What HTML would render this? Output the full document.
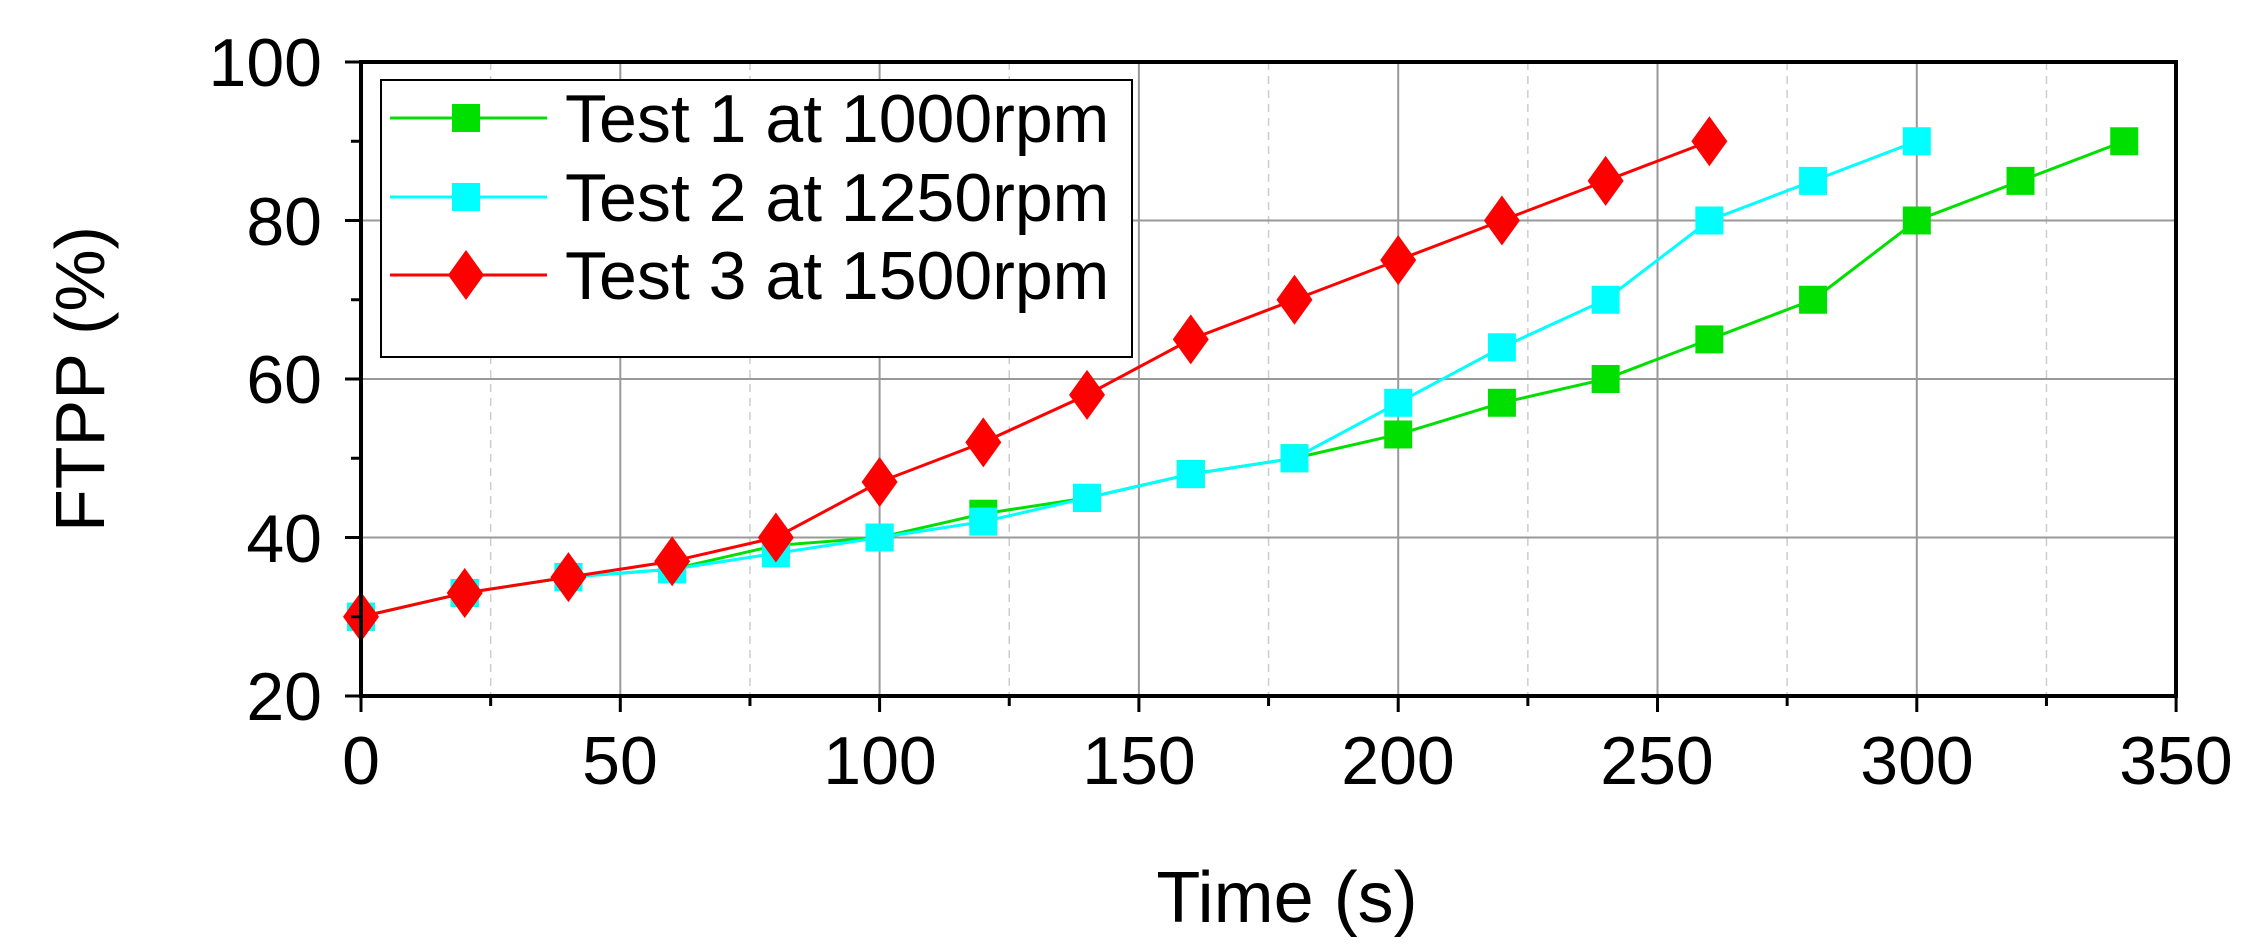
<!DOCTYPE html>
<html><head><meta charset="utf-8"><style>
html,body{margin:0;padding:0;background:#fff;}
svg{display:block;font-family:"Liberation Sans",Arial,sans-serif;}
</style></head><body>
<svg id="s" width="2256" height="945" viewBox="0 0 2256 945" xmlns="http://www.w3.org/2000/svg">
<g id="grid"></g>
<g id="series"></g>
<rect x="361" y="62" width="1815" height="634" fill="none" stroke="#000" stroke-width="4"/>
<g id="ticks"></g>
<g font-size="68" fill="#000" text-anchor="end">
<text x="322" y="86">100</text>
<text x="322" y="245">80</text>
<text x="322" y="403">60</text>
<text x="322" y="562">40</text>
<text x="322" y="720">20</text>
</g>
<g font-size="68" fill="#000" text-anchor="middle">
<text x="361" y="784">0</text>
<text x="620" y="784">50</text>
<text x="880" y="784">100</text>
<text x="1139" y="784">150</text>
<text x="1398" y="784">200</text>
<text x="1657" y="784">250</text>
<text x="1917" y="784">300</text>
<text x="2176" y="784">350</text>
<text x="1287" y="922" font-size="72">Time (s)</text>
<text transform="translate(104,379) rotate(-90)" font-size="70">FTPP (%)</text>
</g>
<rect x="381" y="80" width="751" height="277" fill="#fff" stroke="#000" stroke-width="2"/>
<g font-size="68" fill="#000">
<text x="565" y="142">Test 1 at 1000rpm</text>
<text x="565" y="221">Test 2 at 1250rpm</text>
<text x="565" y="299">Test 3 at 1500rpm</text>
</g>
<g id="leg"></g>
</svg>
<script>
const NS="http://www.w3.org/2000/svg";
function X(t){return 361+t*5.186;} function Y(v){return 696-(v-20)*7.925;}
function el(p,n,a){const e=document.createElementNS(NS,n);for(const k in a)e.setAttribute(k,a[k]);document.getElementById(p).appendChild(e);return e;}
for(let t=25;t<350;t+=50) el('grid','line',{x1:X(t),x2:X(t),y1:62,y2:696,stroke:'#ccc','stroke-width':1.5,'stroke-dasharray':'8,6'});
for(let t=50;t<350;t+=50) el('grid','line',{x1:X(t),x2:X(t),y1:62,y2:696,stroke:'#999','stroke-width':2});
for(let v=40;v<100;v+=20) el('grid','line',{x1:361,x2:2176,y1:Y(v),y2:Y(v),stroke:'#999','stroke-width':2});
for(let t=0;t<=350;t+=25){const L=t%50?10:16;el('ticks','line',{x1:X(t),x2:X(t),y1:696,y2:696+L,stroke:'#000','stroke-width':3});}
for(let v=20;v<=100;v+=10){const L=v%20?10:16;el('ticks','line',{x1:361-L,x2:361,y1:Y(v),y2:Y(v),stroke:'#000','stroke-width':3});}
const T1=[30,33,35,36,39,40,43,45,48,50,53,57,60,65,70,80,85,90];
const T2=[30,33,35,36,38,40,42,45,48,50,57,64,70,80,85,90];
const T3=[30,33,35,37,40,47,52,58,65,70,75,80,85,90];
function sq(g,x,y,c){el(g,'rect',{x:x-14,y:y-14,width:28,height:28,fill:c});}
function di(g,x,y,c){el(g,'polygon',{points:`${x},${y-25} ${x+18},${y} ${x},${y+25} ${x-18},${y}`,fill:c});}
function series(d,c,m){el('series','polyline',{points:d.map((v,i)=>X(i*20)+','+Y(v)).join(' '),fill:'none',stroke:c,'stroke-width':3});
d.forEach((v,i)=>m('series',X(i*20),Y(v),c));}
series(T1,'#00e000',sq);series(T2,'#00ffff',sq);series(T3,'#ff0000',di);
[[118,'#00e000',sq],[197,'#00ffff',sq],[275,'#ff0000',di]].forEach(([y,c,m])=>{el('leg','line',{x1:390,x2:547,y1:y,y2:y,stroke:c,'stroke-width':3});m('leg',466,y,c);});
</script>
</body></html>
